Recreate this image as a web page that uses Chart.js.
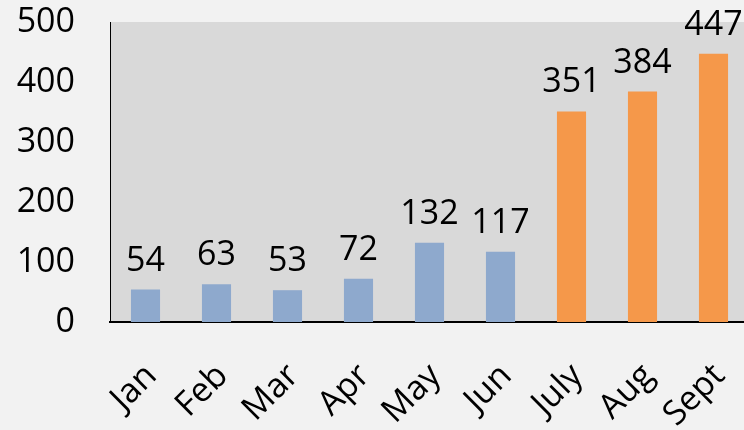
<!DOCTYPE html>
<html>
<head>
<meta charset="utf-8">
<script src="https://cdn.jsdelivr.net/npm/chart.js@4"></script>
<style>
    html, body { margin: 0; padding: 0; background: #f2f2f2; overflow: hidden; }
    #wrap { width: 752px; height: 430px; position: relative; }
</style>
</head>
<body>
<div id="wrap"><canvas id="chart"></canvas></div>
<script>
// 데이터
const months = ['Jan', 'Feb', 'Mar', 'Apr', 'May', 'Jun', 'July', 'Aug', 'Sept'];
const counts = [54, 63, 53, 72, 132, 117, 351, 384, 447];
const yTicks = [0, 100, 200, 300, 400, 500];

// 색상
const blue = '#8EA9CD';
const orange = '#F5984A';
const barColors = months.map((m, i) => i < 6 ? blue : orange);

const FONT = "'Open Sans', 'DejaVu Sans', sans-serif";

// 플롯 영역 배경
const plotBg = {
    id: 'plotBg',
    beforeDraw(chart) {
        const { ctx, chartArea: a } = chart;
        ctx.save();
        ctx.fillStyle = '#d9d9d9';
        ctx.fillRect(a.left, a.top, a.right - a.left, a.bottom - a.top);
        ctx.restore();
    }
};

// 막대 위 값 표시
const valueLabels = {
    id: 'valueLabels',
    afterDatasetsDraw(chart) {
        const { ctx } = chart;
        const meta = chart.getDatasetMeta(0);
        ctx.save();
        ctx.font = '34px ' + FONT;
        ctx.fillStyle = '#000';
        ctx.textAlign = 'center';
        ctx.textBaseline = 'alphabetic';
        meta.data.forEach((bar, i) => {
            ctx.fillText(String(counts[i]), bar.x, bar.y - 19);
        });
        ctx.restore();
    }
};

new Chart(document.getElementById('chart'), {
    type: 'bar',
    data: {
        labels: months,
        datasets: [{
            data: counts,
            backgroundColor: barColors,
            borderWidth: 0,
            barPercentage: 0.41,
            categoryPercentage: 1
        }]
    },
    options: {
        responsive: true,
        maintainAspectRatio: false,
        animation: false,
        layout: { padding: { top: 22, right: 3, left: 0, bottom: 0 } },
        plugins: {
            legend: { display: false },
            tooltip: { enabled: false }
        },
        scales: {
            x: {
                grid: { display: false, drawTicks: false },
                border: { color: '#000', width: 2 },
                ticks: {
                    color: '#000',
                    font: { family: FONT, size: 34 },
                    minRotation: 45,
                    maxRotation: 45,
                    padding: 34,
                    labelOffset: 6
                },
                afterFit(scale) {
                    scale.height = 108;
                    scale.paddingLeft = 0;
                    scale.paddingRight = 0;
                }
            },
            y: {
                min: 0,
                max: 500,
                grid: { display: false, drawTicks: false },
                border: { color: '#000', width: 1 },
                afterBuildTicks(scale) {
                    scale.ticks = yTicks.map(v => ({ value: v }));
                },
                ticks: {
                    color: '#000',
                    font: { family: FONT, size: 34 },
                    padding: 35
                },
                afterFit(scale) {
                    scale.width = 110;
                    scale.paddingTop = 0;
                    scale.paddingBottom = 0;
                }
            }
        }
    },
    plugins: [plotBg, valueLabels]
});
</script>
</body>
</html>
